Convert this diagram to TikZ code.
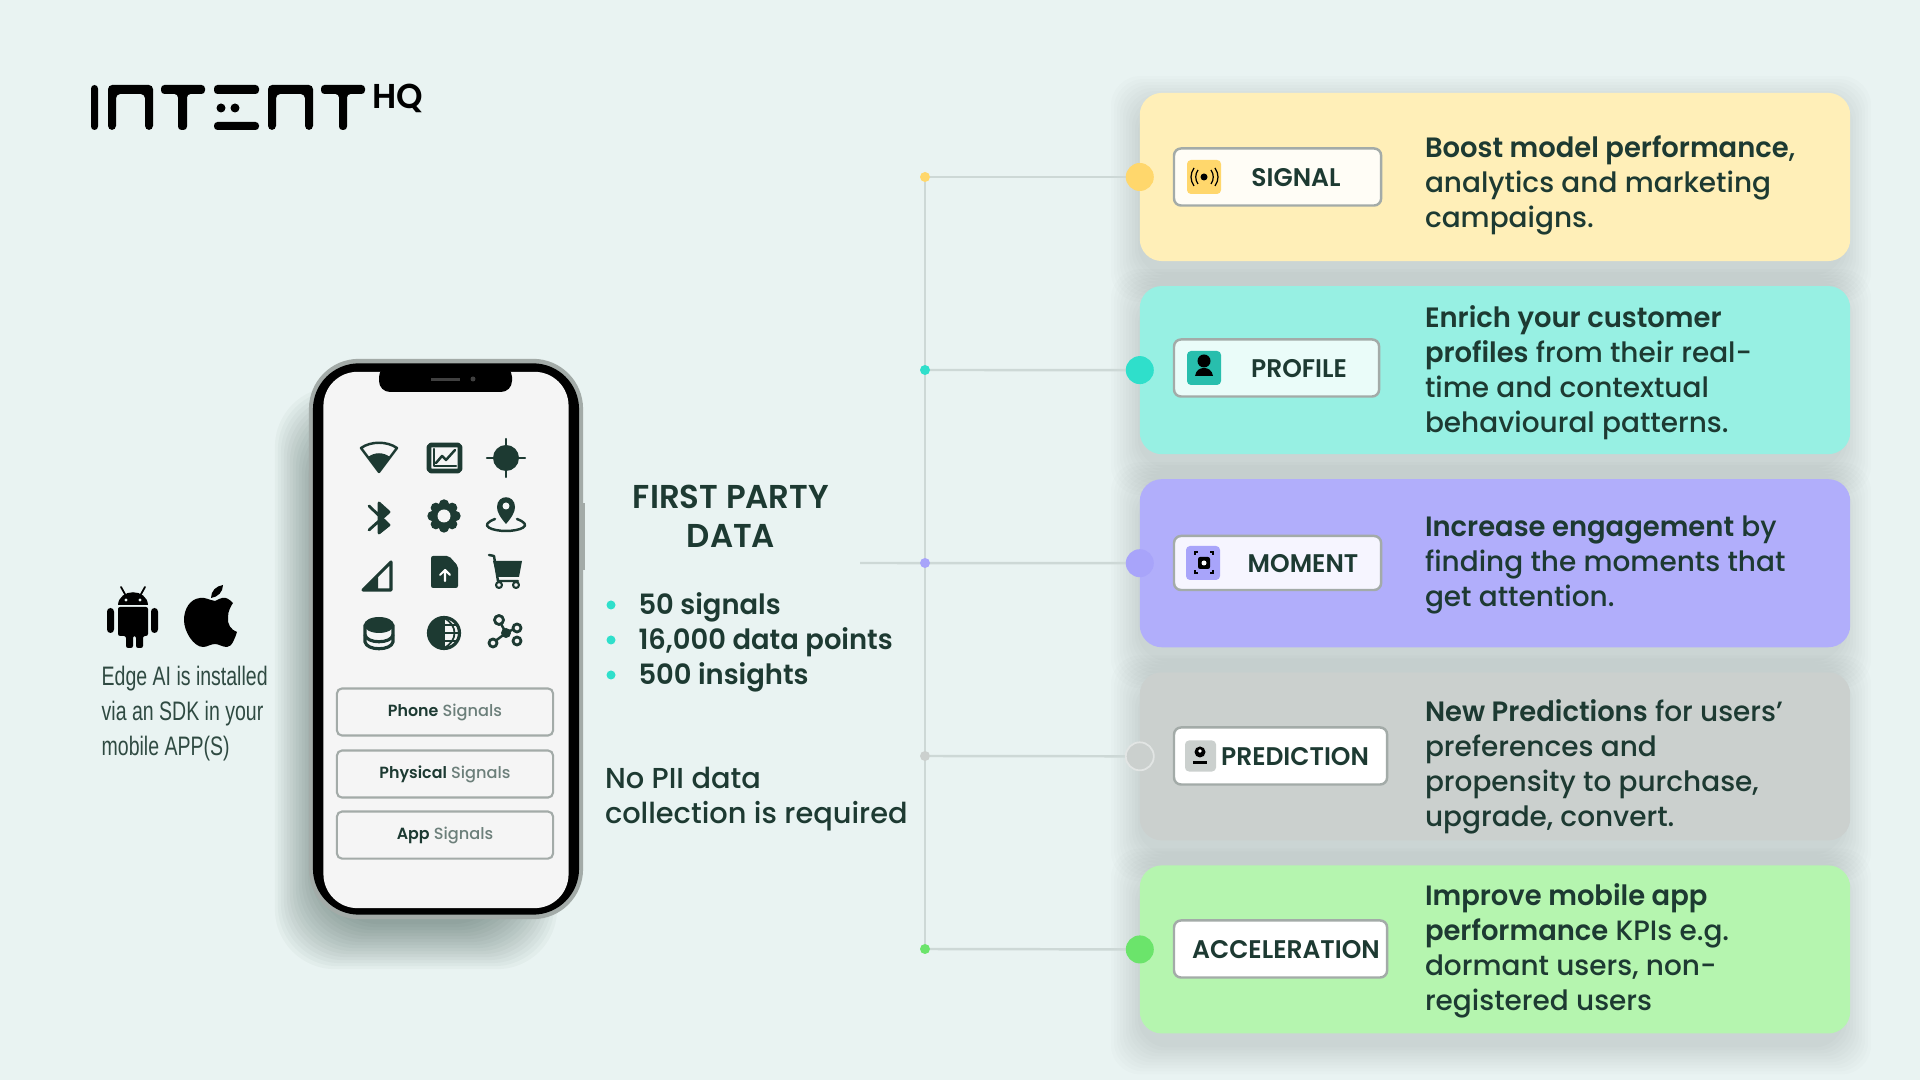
\documentclass[tikz,border=0pt]{standalone}
\usepackage{fontspec}
\setmainfont{Poppins Medium}[BoldFont=Poppins SemiBold,BoldFeatures={FakeStretch=0.98}]
\newfontfamily\capfont[FakeStretch=0.73]{Liberation Sans}
\usetikzlibrary{positioning,backgrounds,calc}
\definecolor{PageBg}{HTML}{E9F3F2}
\definecolor{InkDark}{HTML}{1D3A32}
\definecolor{RailGrey}{HTML}{CDD8D6}
\definecolor{BoxEdge}{HTML}{A3ABA8}
\definecolor{SignalCard}{HTML}{FFEFB8}
\definecolor{SignalPin}{HTML}{FFD76C}
\definecolor{ProfileCard}{HTML}{97F0E3}
\definecolor{ProfilePin}{HTML}{2FDFCB}
\definecolor{MomentCard}{HTML}{B1AEFB}
\definecolor{MomentPin}{HTML}{A8A4FA}
\definecolor{PredictCard}{HTML}{CBD0CE}
\definecolor{AccelCard}{HTML}{B5F5AF}
\definecolor{AccelPin}{HTML}{6BE46B}
\tikzset{
  card/.style={rounded corners=.22cm, minimum width=7.1cm, minimum height=1.68cm, inner sep=0pt, outer sep=0pt},
  pin/.style={circle, inner sep=0pt, outer sep=0pt, minimum size=.28cm},
  dot/.style={circle, inner sep=0pt, outer sep=0pt, minimum size=.1cm},
  labelbox/.style={draw=BoxEdge, line width=.7pt, rounded corners=.07cm, anchor=west, minimum height=.57cm, inner sep=0pt, outer sep=0pt},
  tile/.style={rounded corners=.04cm, anchor=west, minimum size=.34cm, inner sep=0pt, outer sep=0pt},
  labeltext/.style={font=\fontsize{7.25}{8}\selectfont\bfseries, text=InkDark},
  bodytext/.style={font=\fontsize{7.95}{9.96}\selectfont, text=InkDark, align=left, anchor=west, inner sep=0pt, outer sep=0pt},
  signalbtn/.style={draw=BoxEdge, line width=.6pt, rounded corners=.05cm, minimum width=2.16cm, minimum height=.47cm, inner sep=0pt, outer sep=0pt, font=\fontsize{4.6}{6}\selectfont, text=InkDark!65},
  bullet/.style={circle, fill=ProfilePin, inner sep=0pt, outer sep=0pt, minimum size=.09cm},
  icon/.style={fill=InkDark, draw=none},
  iconline/.style={draw=InkDark, line width=.7pt, fill=none, line cap=round, line join=round}
}
\begin{document}
\begin{tikzpicture}[x=.01cm, y=-.01cm, node distance=.25cm]
\useasboundingbox (0,0) rectangle (1920,1080);

% cards
\node[card, fill=SignalCard] (cardsignal) at (1495,177) {};
\node[card, fill=ProfileCard, below=of cardsignal] (cardprofile) {};
\node[card, fill=MomentCard, below=of cardprofile] (cardmoment) {};
\node[card, fill=PredictCard, below=of cardmoment] (cardprediction) {};
\node[card, fill=AccelCard, below=of cardprediction] (cardacceleration) {};

\node[pin, fill=SignalPin] (pinsignal) at (cardsignal.west) {};
\node[pin, fill=ProfilePin] (pinprofile) at (cardprofile.west) {};
\node[pin, fill=MomentPin] (pinmoment) at (cardmoment.west) {};
\node[pin, fill=PredictCard, draw=white!45!PredictCard, line width=.5pt] (pinprediction) at (cardprediction.west) {};
\node[pin, fill=AccelPin] (pinacceleration) at (cardacceleration.west) {};

\node[dot, fill=SignalPin] (dotsignal) at (925,177) {};
\node[dot, fill=ProfilePin] (dotprofile) at (925,370) {};
\node[dot, fill=MomentPin] (dotmoment) at (925,563) {};
\node[dot, fill=PredictCard] (dotprediction) at (925,756) {};
\node[dot, fill=AccelPin] (dotacceleration) at (925,949) {};
\coordinate (datafoot) at (860,563);

\node[labelbox, fill=white!88!SignalCard, minimum width=2.07cm] (boxsignal) at (1174,177) {};
\node[labelbox, fill=white!80!ProfileCard, minimum width=2.05cm] (boxprofile) at (1174,368) {};
\node[labelbox, fill=white!88!MomentCard, minimum width=2.07cm, minimum height=.54cm] (boxmoment) at (1174,563) {};
\node[labelbox, fill=white, minimum width=2.13cm] (boxprediction) at (1174,756) {};
\node[labelbox, fill=white, minimum width=2.13cm] (boxacceleration) at (1174,949) {};

\node[tile, fill=SignalPin] (tilesignal) at ([xshift=.13cm]boxsignal.west) {};
\node[tile, fill=ProfilePin!85!black] (tileprofile) at ([xshift=.13cm]boxprofile.west) {};
\node[tile, fill=MomentPin] (tilemoment) at ([xshift=.12cm]boxmoment.west) {};
\node[tile, fill=PredictCard, minimum size=.31cm] (tileprediction) at ([xshift=.11cm]boxprediction.west) {};

\node[labeltext] (textsignal) at (1296,178) {SIGNAL};
\node[labeltext] (textprofile) at (1299,369) {PROFILE};
\node[labeltext] (textmoment) at (1303,564) {MOMENT};
\node[labeltext] (textprediction) at (1295,757) {PREDICTION};
\node[labeltext] (textacceleration) at (1286,950) {ACCELERATION};

\fill[black] (tilesignal.center) circle (3.5);
\draw[black, line width=.35pt] (1198,170) .. controls (1195,174) and (1195,180) .. (1198,184);
\draw[black, line width=.35pt] (1211,170) .. controls (1214,174) and (1214,180) .. (1211,184);
\draw[black, line width=.35pt] (1194,168) .. controls (1190,174) and (1190,180) .. (1194,186);
\draw[black, line width=.35pt] (1215,168) .. controls (1219,174) and (1219,180) .. (1215,186);
\fill[black] (1204,361) circle (6.5);
\fill[black] (1195,376) .. controls (1196,370) and (1200,368) .. (1204,368) .. controls (1208,368) and (1212,370) .. (1213,376) -- cycle;
\draw[black, line width=.4pt] (1195,555) -- (1195,552) -- (1198,552) (1210,552) -- (1213,552) -- (1213,555) (1213,570) -- (1213,573) -- (1210,573) (1198,573) -- (1195,573) -- (1195,570);
\fill[black, rounded corners=.6pt] (1198,557) rectangle (1210,569);
\fill[white] (1204,563) circle (2.5);
\fill[black] (1200,752) circle (5.5);
\fill[white] (1200,751) circle (1.8);
\fill[black] (1193,761) rectangle (1207,764);

\node[bodytext] (bodysignal) at (1425,185) {\textbf{Boost model performance},\\analytics and marketing\\campaigns.};
\node[bodytext] (bodyprofile) at (1425,373) {\textbf{Enrich your customer}\\\textbf{profiles} from their real-\\time and contextual\\behavioural patterns.};
\node[bodytext] (bodymoment) at (1425,565) {\textbf{Increase engagement} by\\finding the moments that\\get attention.};
\node[bodytext] (bodyprediction) at (1425,767) {\textbf{New Predictions} for users'\\preferences and\\propensity to purchase,\\upgrade, convert.};
\node[bodytext] (bodyacceleration) at (1425,951) {\textbf{Improve mobile app}\\\textbf{performance} KPIs e.g.\\dormant users, non-\\registered users};

% phone
\node[fill=BoxEdge, rounded corners=.5cm, minimum width=2.74cm, minimum height=5.6cm, inner sep=0pt, outer sep=0pt] (phonecase) at (446,639) {};
\node[fill=black, rounded corners=.46cm, minimum width=2.66cm, minimum height=5.51cm, inner sep=0pt, outer sep=0pt] (phonerim) at (phonecase.center) {};
\node[fill=white!96!black, rounded corners=.34cm, minimum width=2.45cm, minimum height=5.36cm, inner sep=0pt, outer sep=0pt] (phonescreen) at (446,640) {};
\fill[black, rounded corners=.11cm] (379,366) -- (379,392) -- (512,392) -- (512,366) -- cycle;
\fill[black!75] (431,378) rectangle (460,381);
\fill[black!75] (473,379) circle (2.5);
\fill[BoxEdge] (582,503) rectangle (585,570);

\node[signalbtn] (btnphone) at (445,712) {\textbf{\textcolor{InkDark}{Phone}} Signals};
\node[signalbtn, below=.15cm of btnphone] (btnphysical) {\textbf{\textcolor{InkDark}{Physical}} Signals};
\node[signalbtn, below=.14cm of btnphysical] (btnapp) {\textbf{\textcolor{InkDark}{App}} Signals};

% phone icons
\draw[iconline] (361,448) .. controls (371,441) and (387,441) .. (397,448) -- (379,472) -- cycle;
\fill[icon] (368,457) .. controls (375,452) and (383,452) .. (390,457) -- (379,472) -- cycle;
\draw[iconline, line width=1.3pt, rounded corners=.5pt] (429,445) rectangle (460,471);
\draw[iconline, line width=.7pt] (434,449) -- (434,466) -- (456,466);
\draw[iconline, line width=.7pt] (436,463) -- (442,456) -- (446,460) -- (455,450);
\fill[icon] (506,458) circle (13);
\draw[iconline] (487,458) -- (525,458) (506,439) -- (506,477);
\draw[iconline, line width=.8pt] (369,506) -- (389,525) -- (379,533) -- (379,503) -- (389,512) -- (369,530);
\fill[icon] (380,504) -- (390,512) -- (380,519) -- cycle;
\fill[icon] (380,517) -- (390,525) -- (380,533) -- cycle;
\fill[icon] (444,516) circle (12);
\foreach \a in {0,45,...,315}
  \fill[icon] ($(444,516)+(\a:11.5)$) circle (5.2);
\fill[white!96!black] (444,516) circle (6.5);
\fill[icon] (506,524) .. controls (500,517) and (497,512) .. (497,507) .. controls (497,494) and (515,494) .. (515,507) .. controls (515,512) and (512,517) .. (506,524) -- cycle;
\fill[white!96!black] (506,506) circle (3.5);
\draw[iconline] (495,519) .. controls (477,526) and (493,531) .. (506,531) .. controls (519,531) and (535,526) .. (517,519);
\draw[iconline, line width=.9pt] (363,590) -- (391,562) -- (391,590) -- cycle;
\fill[icon] (363,590) -- (378,575) -- (378,590) -- cycle;
\fill[icon, rounded corners=.6pt] (431,556) -- (449,556) -- (458,566) -- (458,588) -- (431,588) -- cycle;
\draw[iconline, draw=white, line width=.6pt] (445,581) -- (445,571) (440,575) -- (445,570) -- (450,575);
\fill[icon] (493,561) -- (522,561) -- (519,577) -- (497,577) -- cycle;
\draw[iconline] (489,555) -- (494,556) -- (498,581) -- (518,581);
\draw[iconline, line width=.6pt] (499,585) circle (3) (516,585) circle (3);
\fill[icon] (379,625) ellipse (15 and 8);
\draw[iconline, line width=.9pt] (365,625) -- (365,642) .. controls (367,651) and (391,651) .. (393,642) -- (393,625);
\draw[iconline, line width=.9pt] (365,635) .. controls (367,644) and (391,644) .. (393,635);
\draw[iconline, line width=.9pt] (444,633) circle (15.5);
\fill[icon] (444,617.5) .. controls (423,617.5) and (423,648.5) .. (444,648.5) -- cycle;
\draw[iconline, line width=.5pt] (444,618) .. controls (458,625) and (458,641) .. (444,648);
\draw[iconline, line width=.5pt] (444,618) -- (444,648) (444,633) -- (459,633) (444,625) -- (456,625) (444,641) -- (456,641);
\fill[icon] (506,633) circle (5);
\draw[iconline, line width=.7pt] (506,633) -- (500,622) (506,633) -- (516,628) (506,633) -- (494,642);
\draw[iconline, fill=white!96!black, line width=.8pt] (499,620) circle (4.5) (517,628) circle (4) (493,643) circle (4) (517,641) circle (4);

% left column
\fill[black] (118,605) .. controls (119,588) and (147,588) .. (148,605) -- cycle;
\draw[black, line width=.5pt, line cap=round] (121,587) -- (126,596) (145,587) -- (140,596);
\fill[PageBg] (126,600) circle (1.6) (140,600) circle (1.6);
\fill[black, rounded corners=.6pt] (118,607) -- (148,607) -- (148,636) -- (143,636) -- (143,648) -- (136,648) -- (136,636) -- (133,636) -- (133,648) -- (126,648) -- (126,636) -- (118,636) -- cycle;
\fill[black, rounded corners=1pt] (107,608) rectangle (114,633);
\fill[black, rounded corners=1pt] (151,608) rectangle (158,633);
\fill[black] (215,601) .. controls (209,600) and (205,597) .. (200,598) .. controls (190,599) and (184,609) .. (184,620) .. controls (184,632) and (194,647) .. (203,647) .. controls (207,647) and (211,644) .. (215,644) .. controls (219,644) and (222,647) .. (227,647) .. controls (232,647) and (235,638) .. (237,632) .. controls (231,630) and (227,624) .. (228,617) .. controls (228,611) and (231,606) .. (233,603) .. controls (229,599) and (226,597) .. (222,598) .. controls (220,598) and (218,600) .. (215,601) -- cycle;
\fill[black] (211,598) .. controls (211,591) and (216,586) .. (223,585) .. controls (223,592) and (218,597) .. (211,598) -- cycle;
\node[anchor=west, align=left, inner sep=0pt, text=InkDark!92, font=\fontsize{7.6}{9.96}\selectfont\capfont] (caption) at (101,714) {Edge AI is installed\\via an SDK in your\\mobile APP(S)};

% middle column
\node[align=center, inner sep=0pt, text=InkDark, font=\fontsize{9.4}{11.1}\selectfont\bfseries] (datatitle) at (731,516) {FIRST PARTY\\DATA};
\node[bullet] (bulletsignals) at (611,605) {};
\node[bullet] (bulletpoints) at (611,640) {};
\node[bullet] (bulletinsights) at (611,675) {};
\node[bodytext, right=.23cm of bulletsignals, yshift=-.02cm, font=\fontsize{7.95}{9.96}\selectfont\bfseries] (itemsignals) {50 signals};
\node[bodytext, right=.23cm of bulletpoints, yshift=-.02cm, font=\fontsize{7.95}{9.96}\selectfont\bfseries] (itempoints) {16,000 data points};
\node[bodytext, right=.23cm of bulletinsights, yshift=-.02cm, font=\fontsize{7.95}{9.96}\selectfont\bfseries] (iteminsights) {500 insights};
\node[bodytext, font=\fontsize{8.2}{9.96}\selectfont] (nopii) at (605,799) {No PII data\\collection is required};

% logo
\fill[black, rounded corners=1pt] (91,85) rectangle (98,130);
\fill[black, rounded corners=1.2pt] (108,130) -- (108,85) -- (153,85) -- (153,130) -- (145,130) -- (145,94) -- (116,94) -- (116,130) -- cycle;
\fill[black, rounded corners=1pt] (161,85) -- (205,85) -- (205,94) -- (187,94) -- (187,130) -- (178,130) -- (178,94) -- (161,94) -- cycle;
\fill[black, rounded corners=1pt] (214,85) rectangle (259,94);
\fill[black] (221,108) circle (4.5) (235,108) circle (4.5);
\fill[black, rounded corners=1pt] (214,122) rectangle (259,130);
\fill[black, rounded corners=1.2pt] (268,130) -- (268,85) -- (313,85) -- (313,130) -- (305,130) -- (305,94) -- (276,94) -- (276,130) -- cycle;
\fill[black, rounded corners=1pt] (321,85) -- (365,85) -- (365,94) -- (347,94) -- (347,130) -- (339,130) -- (339,94) -- (321,94) -- cycle;
\node[anchor=west, inner sep=0pt, text=black, font=\fontsize{9.8}{11}\selectfont\bfseries] (logohq) at (372,98) {HQ};

\begin{scope}[on background layer]
\fill[PageBg] (0,0) rectangle (1920,1080);
\foreach \g in {2,5,...,29} {
  \fill[black, opacity=.01, rounded corners=.3cm] ($(cardsignal.north west)+(-\g,12-\g)$) rectangle ($(cardsignal.south east)+(\g-8,12+\g)$);
  \fill[black, opacity=.01, rounded corners=.3cm] ($(cardprofile.north west)+(-\g,12-\g)$) rectangle ($(cardprofile.south east)+(\g-8,12+\g)$);
  \fill[black, opacity=.01, rounded corners=.3cm] ($(cardmoment.north west)+(-\g,12-\g)$) rectangle ($(cardmoment.south east)+(\g-8,12+\g)$);
  \fill[black, opacity=.01, rounded corners=.3cm] ($(cardprediction.north west)+(-\g,12-\g)$) rectangle ($(cardprediction.south east)+(\g-8,12+\g)$);
  \fill[black, opacity=.01, rounded corners=.3cm] ($(cardacceleration.north west)+(-\g,12-\g)$) rectangle ($(cardacceleration.south east)+(\g-8,12+\g)$);
}
\foreach \g in {2,5,...,47}
  \fill[InkDark, opacity=.032, rounded corners=.6cm] ($(phonecase.north west)+(-36+\g,26+\g)$) rectangle ($(phonecase.south east)+(-24-\g,52-\g)$);
\draw[RailGrey, line width=.7pt] (dotsignal) -- (dotacceleration);
\draw[RailGrey, line width=.7pt] (dotsignal) -- (pinsignal);
\draw[RailGrey, line width=.7pt] (dotprofile) -- (pinprofile);
\draw[RailGrey, line width=.7pt] (datafoot) -- (pinmoment);
\draw[RailGrey, line width=.7pt] (dotprediction) -- (pinprediction);
\draw[RailGrey, line width=.7pt] (dotacceleration) -- (pinacceleration);
\end{scope}
\end{tikzpicture}
\end{document}
